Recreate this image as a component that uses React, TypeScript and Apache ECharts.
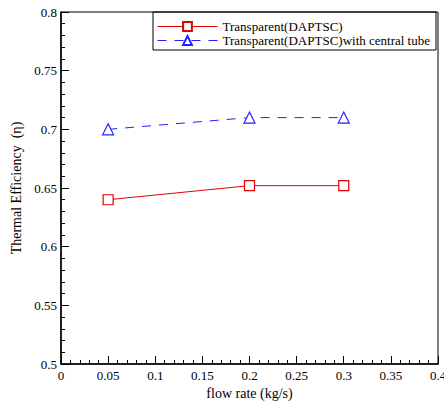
import React, { useEffect, useRef } from "react";
import * as echarts from "echarts";

const flowRates = [0.05, 0.2, 0.3];
const transparentEff = [0.64, 0.652, 0.652];
const centralTubeEff = [0.7, 0.71, 0.71];
const seriesNames = ["Transparent(DAPTSC)", "Transparent(DAPTSC)with central tube"];

const FONT = "'Liberation Serif', 'Times New Roman', Times, serif";

export default function App() {
  const ref = useRef<HTMLDivElement>(null);
  useEffect(() => {
    if (!ref.current) return;
    const chart = echarts.init(ref.current, undefined, { renderer: "svg" });
    const axisCommon = {
      axisLine: { show: true, lineStyle: { color: "#000", width: 1.5 } },
      axisTick: { show: true, inside: true, length: 8, lineStyle: { color: "#000", width: 1 } },
      minorTick: { show: true, splitNumber: 5, length: 4, lineStyle: { color: "#000", width: 1 } },
      splitLine: { show: false },
      axisLabel: { color: "#000", fontFamily: FONT, fontSize: 13 },
      nameTextStyle: { color: "#000", fontFamily: FONT, fontSize: 14 },
    };
    chart.setOption({
      animation: false,
      backgroundColor: "#fff",
      textStyle: { fontFamily: FONT },
      grid: {
        left: 61,
        right: 6,
        top: 12,
        bottom: 37,
        show: true,
        borderColor: "#000",
        borderWidth: 1,
        containLabel: false,
        outerBoundsMode: "none",
      },
      legend: {
        left: 153,
        top: 12,
        orient: "vertical",
        borderColor: "#000",
        borderWidth: 1,
        borderRadius: 0,
        padding: [8, 6, 3, 4],
        itemWidth: 60,
        itemHeight: 11,
        itemGap: 1,
        lineStyle: { width: 1 },
        textStyle: { color: "#000", fontFamily: FONT, fontSize: 13 },
        data: seriesNames,
      },
      xAxis: {
        type: "value",
        min: 0,
        max: 0.4,
        interval: 0.05,
        name: "flow rate (kg/s)",
        nameLocation: "middle",
        nameGap: 21,
        ...axisCommon,
        axisLabel: { ...axisCommon.axisLabel, margin: 5 },
      },
      yAxis: {
        type: "value",
        min: 0.5,
        max: 0.8,
        interval: 0.05,
        name: "Thermal Efficiency  (\u03b7)",
        nameLocation: "middle",
        nameGap: 37,
        ...axisCommon,
        axisLabel: { ...axisCommon.axisLabel, margin: 4 },
      },
      series: [
        {
          name: seriesNames[0],
          type: "line",
          data: flowRates.map((x, i) => [x, transparentEff[i]]),
          symbol: "rect",
          symbolSize: 10,
          showAllSymbol: true,
          itemStyle: { color: "#fff", borderColor: "#e00000", borderWidth: 1.2 },
          lineStyle: { color: "#e00000", width: 1, type: "solid" },
          color: "#e00000",
        },
        {
          name: seriesNames[1],
          type: "line",
          data: flowRates.map((x, i) => [x, centralTubeEff[i]]),
          symbol: "triangle",
          symbolSize: 11,
          showAllSymbol: true,
          itemStyle: { color: "#fff", borderColor: "#2020ff", borderWidth: 1.2 },
          lineStyle: { color: "#2020ff", width: 1, type: [9, 8] },
          color: "#2020ff",
        },
      ],
    });
    return () => chart.dispose();
  }, []);
  return <div ref={ref} style={{ width: 444, height: 401, position: "absolute", left: 0, top: 0 }} />;
}
